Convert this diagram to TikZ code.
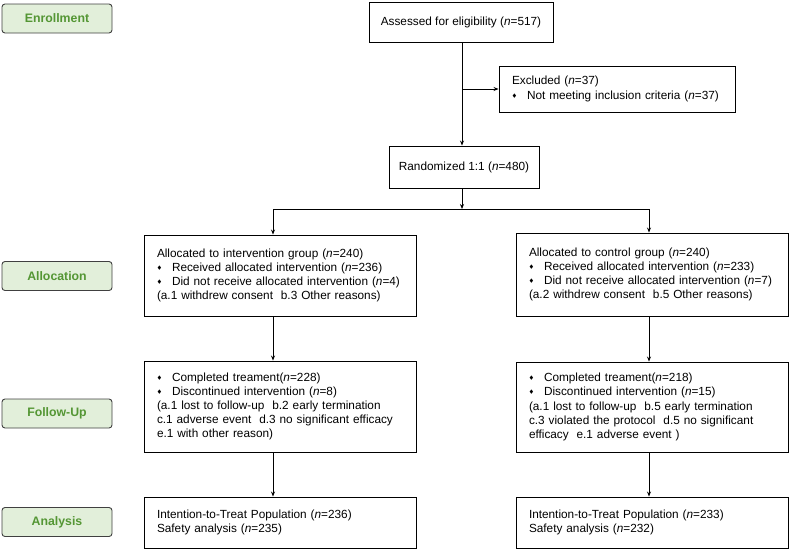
\documentclass[tikz,border=0pt]{standalone}
\usepackage{fontspec}
\setmainfont{Liberation Sans}
\usepackage{amssymb}
\usepackage{xcolor}
\usetikzlibrary{arrows.meta}
\definecolor{stagefill}{RGB}{226,239,218}
\definecolor{stagetext}{RGB}{84,150,52}
\newcommand{\nn}{\textit{n}}
\newcommand{\itm}{\makebox[15pt][l]{\raisebox{0.3ex}{\tiny$\blacklozenge$}}}

\begin{document}
\begin{tikzpicture}[x=1pt, y=-1pt,
  stage/.style = {draw=black!75, line width=0.9pt, fill=stagefill, rounded corners=3pt,
    minimum width=110pt, minimum height=29pt, inner sep=0pt,
    font=\fontsize{12.3}{14}\selectfont\bfseries, text=stagetext},
  flow/.style = {draw, line width=0.9pt, align=left, inner xsep=13pt, inner ysep=0pt,
    font=\fontsize{11.8}{14.2}\selectfont},
  arr/.style = {-{Stealth[length=5pt, width=4pt]}, line width=0.8pt}
]
\useasboundingbox (0,0) rectangle (790,550);

% stages on the left
\node[stage] (enroll) at (57,18.5){Enrollment};
\node[stage] (alloc) at (57,276){Allocation};
\node[stage] (follow) at (57,413.5){Follow-Up};
\node[stage] (analysis) at (57,522){Analysis};

% enrollment
\node[flow, align=center, inner xsep=0pt, minimum width=184pt, minimum height=40pt] (assess) at (461,22){Assessed for eligibility (\nn=517)};
\node[flow, text width=210pt, minimum height=46pt] (excl) at (617,89){Excluded (\nn=37)\\
\itm Not meeting inclusion criteria (\nn=37)};
\node[flow, align=center, inner xsep=0pt, minimum width=150pt, minimum height=42pt] (rand) at (464,167){Randomized 1:1 (\nn=480)};

\coordinate (split) at (462,209);
\coordinate (col_i) at (273,209);
\coordinate (col_c) at (649,209);

% intervention arm
\node[flow, text width=246pt, minimum height=81pt] (alloc_i) at (280,275.5){Allocated to intervention group (\nn=240)\\
\itm Received allocated intervention (\nn=236)\\
\itm Did not receive allocated intervention (\nn=4)\\
(a.1 withdrew consent~~b.3 Other reasons)};
\node[flow, text width=246pt, minimum height=91pt] (fu_i) at (280,406.5){\itm Completed treament(\nn=228)\\
\itm Discontinued intervention (\nn=8)\\
(a.1 lost to follow-up~~b.2 early termination\\
c.1 adverse event~~d.3 no significant efficacy\\
e.1 with other reason)};
\node[flow, text width=246pt, minimum height=51pt] (an_i) at (280,522.5){Intention-to-Treat Population (\nn=236)\\
Safety analysis (\nn=235)};

% control arm
\node[flow, text width=246pt, minimum height=83pt] (alloc_c) at (652,274.5){Allocated to control group (\nn=240)\\
\itm Received allocated intervention (\nn=233)\\
\itm Did not receive allocated intervention (\nn=7)\\
(a.2 withdrew consent~~b.5 Other reasons)};
\node[flow, text width=246pt, minimum height=90pt] (fu_c) at (652,407){\itm Completed treament(\nn=218)\\
\itm Discontinued intervention (\nn=15)\\
(a.1 lost to follow-up~~b.5 early termination\\
c.3 violated the protocol~~d.5 no significant\\
efficacy~~e.1 adverse event )};
\node[flow, text width=246pt, minimum height=51pt] (an_c) at (652,522.5){Intention-to-Treat Population (\nn=233)\\
Safety analysis (\nn=232)};

% connectors
\draw[arr] (assess.south -| split) -- (rand.north -| split);
\draw[arr] (split |- excl.west) -- (excl.west);
\draw[arr] (rand.south -| split) -- (split);
\draw[line width=0.8pt] (col_i) -- (col_c);
\draw[arr] (col_i) -- (alloc_i.north -| col_i);
\draw[arr] (col_c) -- (alloc_c.north -| col_c);
\draw[arr] (alloc_i.south -| col_i) -- (fu_i.north -| col_i);
\draw[arr] (alloc_c.south -| col_c) -- (fu_c.north -| col_c);
\draw[arr] (fu_i.south -| col_i) -- (an_i.north -| col_i);
\draw[arr] (fu_c.south -| col_c) -- (an_c.north -| col_c);
\end{tikzpicture}
\end{document}
